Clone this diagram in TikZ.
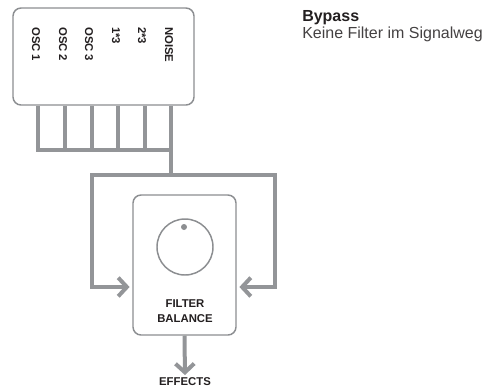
\documentclass[tikz,border=0pt]{standalone}
\usepackage{fontspec}
\setmainfont{Liberation Sans}
\usetikzlibrary{arrows.meta, positioning, calc}
\definecolor{wiregray}{RGB}{147, 149, 152}
\definecolor{edgegray}{RGB}{140, 142, 145}
\definecolor{inkblack}{RGB}{35, 31, 32}

\begin{document}
\begin{tikzpicture}[
  x=0.75pt, y=-0.75pt,
  panel/.style={draw=edgegray, line width=1.1pt, rounded corners=6pt, fill=white},
  wire/.style={draw=wiregray, line width=3pt, line join=miter},
  feed/.style={wire, -{Straight Barb[length=6.5pt, width=14pt]}, shorten >=2pt},
  chan/.style={rotate=-90, anchor=west, inner sep=0pt, text=inkblack, font=\fontsize{8.5}{9}\selectfont\bfseries},
  tag/.style={align=center, inner sep=0pt, text=inkblack, font=\fontsize{8.5}{11.5}\selectfont\bfseries}
]
  \useasboundingbox (0,0) rectangle (494,387);

  % sources
  \node[panel, minimum width=135.75pt, minimum height=72.75pt] (mixer) at (103.5,56.5) {};
  \foreach \x/\t [count=\i] in {36/OSC 1, 63/OSC 2, 89/OSC 3, 116/1*3, 142/2*3, 169/NOISE}
    \node[chan] (ch\i) at (\x,27) {\t};

  % filter balance
  \node[panel, minimum width=77.25pt, minimum height=105pt] (balance) at (184.5,265) {};
  \node[circle, draw=edgegray, line width=1.1pt, minimum size=42pt, inner sep=0pt] (knob) at (185,247) {};
  \node[circle, fill=edgegray, minimum size=4.5pt, inner sep=0pt] (dot) at (184,227) {};
  \node[tag] (bal) at (185,311) {FILTER\\BALANCE};
  \node[tag] (fx) at (185,382) {EFFECTS};

  % taps into the bus
  \foreach \x [count=\i] in {38, 65, 92, 118, 145, 171}
    \coordinate (tap\i) at (\x,150);
  \draw[wire] (tap1 |- mixer.south) -- (tap1) -- (tap6) -- (tap6 |- mixer.south);
  \foreach \i in {2,...,5}
    \draw[wire] (tap\i |- mixer.south) -- (tap\i);

  \coordinate (split) at (171,175);
  \coordinate (inL) at (92,287);
  \coordinate (inR) at (275,287);
  \draw[wire] (tap6) -- (split);
  \draw[feed] (split) -| (inL) -- (inL -| balance.west);
  \draw[feed] (split) -| (inR) -- (inR -| balance.east);
  \draw[feed] (balance.south) -- (fx.north);

  % caption
  \node[anchor=base west, inner sep=0pt, text=inkblack, font=\fontsize{12}{14}\selectfont\bfseries] (title) at (302,21) {Bypass};
  \node[anchor=base west, inner sep=0pt, text=inkblack!85, font=\fontsize{12}{14}\selectfont] (desc) at (302,38) {Keine Filter im Signalweg};
\end{tikzpicture}
\end{document}
